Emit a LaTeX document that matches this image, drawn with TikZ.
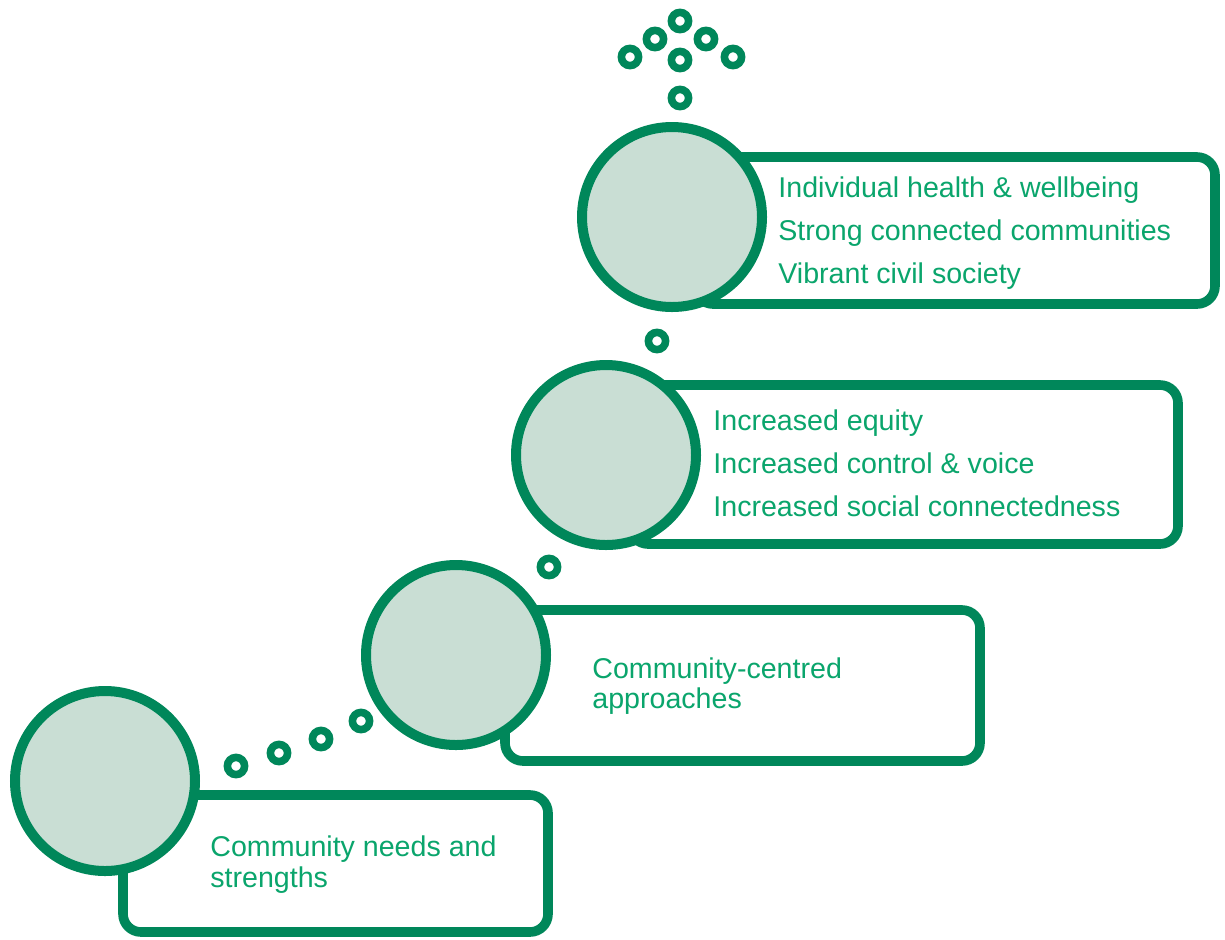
\documentclass[tikz,border=0pt]{standalone}
\usepackage{fontspec}
\setmainfont{Liberation Sans}
\definecolor{dgreen}{RGB}{0,135,90}
\definecolor{lgreen}{RGB}{201,222,212}
\definecolor{tgreen}{RGB}{10,165,108}
\begin{document}
\begin{tikzpicture}[x=0.5pt,y=-0.5pt,
  stepcircle/.style={circle,draw=dgreen,fill=lgreen,line width=5pt,minimum size=90pt,inner sep=0pt},
  stepbox/.style={rectangle,draw=dgreen,fill=white,line width=4.8pt,rounded corners=9pt,inner sep=0pt},
  ring/.style={circle,draw=dgreen,fill=white,line width=3.8pt,minimum size=8.6pt,inner sep=0pt},
  label/.style={anchor=base west,inner sep=0pt,text=tgreen,font=\fontsize{14.3}{17}\selectfont}]
\useasboundingbox[fill=white] (0,0) rectangle (1225,939);
% step 1
\node[stepbox,minimum width=212.5pt,minimum height=68.5pt] (b1) at (335.5,863.5) {};
\node[stepcircle] (c1) at (105,781) {};
\node[label] (t1a) at (210,856) {Community needs and};
\node[label] (t1b) at (210,887) {strengths};
% step 2
\node[stepbox,minimum width=237.5pt,minimum height=75.5pt] (b2) at (742.5,685.5) {};
\node[stepcircle] (c2) at (456,655) {};
\node[label] (t2a) at (592,678) {Community-centred};
\node[label] (t2b) at (592,708) {approaches};
% step 3
\node[stepbox,minimum width=274pt,minimum height=79.5pt] (b3) at (904,464.5) {};
\node[stepcircle] (c3) at (606,455) {};
\node[label] (t3a) at (713,430) {Increased equity};
\node[label] (t3b) at (713,473) {Increased control \& voice};
\node[label] (t3c) at (713,516) {Increased social connectedness};
% step 4
\node[stepbox,minimum width=260pt,minimum height=73.5pt] (b4) at (955,230.5) {};
\node[stepcircle] (c4) at (672,217) {};
\node[label] (t4a) at (778,197) {Individual health \& wellbeing};
\node[label] (t4b) at (778,240) {Strong connected communities};
\node[label] (t4c) at (778,283) {Vibrant civil society};
% dots
\node[ring] (d1) at (236,766) {};
\node[ring] (d2) at (279,753) {};
\node[ring] (d3) at (321,739) {};
\node[ring] (d4) at (361,721) {};
\node[ring] (d5) at (549,567) {};
\node[ring] (d6) at (657,341) {};
\node[ring] (d7) at (680,98) {};
\node[ring] (d8) at (680,60) {};
\node[ring] (d9) at (630,57) {};
\node[ring] (d10) at (655,39) {};
\node[ring] (d11) at (680,21) {};
\node[ring] (d12) at (706,39) {};
\node[ring] (d13) at (733,57) {};
\end{tikzpicture}
\end{document}
